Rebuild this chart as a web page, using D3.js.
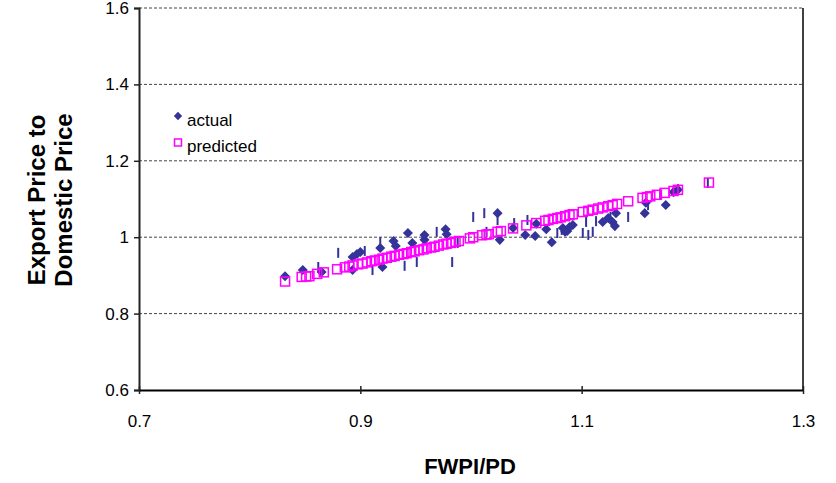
<!DOCTYPE html>
<html>
<head>
<meta charset="utf-8">
<script src="https://cdn.jsdelivr.net/npm/d3@7"></script>
<style>
  body { margin: 0; background: #fff; }
  svg text { font-family: "Liberation Sans", Arial, sans-serif; fill: #000; }
</style>
</head>
<body>
<div id="chart"></div>
<script>
// axis ticks
let xTicks = [0.7, 0.9, 1.1, 1.3];
let yTicks = [0.6, 0.8, 1.0, 1.2, 1.4, 1.6];

// "actual" series (diamonds)
let actualX = [0.832, 0.848, 0.865, 0.893, 0.893, 0.897, 0.900, 0.918, 0.920, 0.930,
               0.932, 0.943, 0.947, 0.958, 0.958, 0.977, 0.978, 1.024, 1.026, 1.038,
               1.049, 1.058, 1.059, 1.068, 1.073, 1.083, 1.087, 1.089, 1.092, 1.085,
               1.119, 1.124, 1.128, 1.130, 1.131, 1.157, 1.158, 1.176, 1.183, 1.187];
let actualY = [0.898, 0.914, 0.909, 0.914, 0.948, 0.956, 0.961, 0.972, 0.922, 0.990,
               0.977, 1.011, 0.985, 1.006, 0.993, 1.021, 1.008, 1.063, 0.993, 1.024,
               1.006, 1.003, 1.035, 1.021, 0.987, 1.024, 1.016, 1.027, 1.032, 1.014,
               1.040, 1.050, 1.040, 1.029, 1.063, 1.063, 1.090, 1.084, 1.118, 1.124];

// thin vertical marks of the actual series
let barX = [0.880, 0.862, 0.904, 0.918, 0.911, 0.940, 0.951, 0.969, 0.983, 0.988,
            1.002, 1.012, 1.014, 1.024, 1.039, 1.051, 1.078, 1.082, 1.101, 1.106,
            1.110, 1.104, 1.113, 1.126, 1.142, 1.160, 1.171, 1.183, 1.187, 1.214];
let barY = [0.959, 0.922, 0.964, 0.987, 0.914, 0.925, 0.935, 1.014, 0.935, 0.985,
            1.053, 1.063, 1.014, 1.045, 1.037, 1.045, 1.011, 1.019, 1.011, 1.006,
            1.014, 1.040, 1.042, 1.053, 1.053, 1.084, 1.113, 1.121, 1.126, 1.142];

// "predicted" series (hollow squares)
let predX = [0.832, 0.847, 0.851, 0.854, 0.861, 0.867, 0.879, 0.886, 0.890, 0.893,
             0.898, 0.902, 0.906, 0.910, 0.913, 0.917, 0.920, 0.924, 0.928, 0.931,
             0.935, 0.939, 0.942, 0.946, 0.949, 0.953, 0.957, 0.960, 0.964, 0.967,
             0.971, 0.975, 0.978, 0.982, 0.986, 0.989, 0.999, 1.002, 1.010, 1.014,
             1.016, 1.024, 1.027, 1.038, 1.050, 1.059, 1.067, 1.070, 1.074, 1.078,
             1.081, 1.085, 1.089, 1.092, 1.101, 1.106, 1.110, 1.115, 1.119, 1.124,
             1.128, 1.132, 1.142, 1.155, 1.159, 1.162, 1.168, 1.175, 1.183, 1.187, 1.215];
let predY = [0.884, 0.896, 0.897, 0.898, 0.904, 0.908, 0.916, 0.921, 0.923, 0.926,
             0.929, 0.931, 0.934, 0.937, 0.939, 0.941, 0.944, 0.946, 0.949, 0.951,
             0.954, 0.956, 0.958, 0.961, 0.963, 0.966, 0.968, 0.971, 0.973, 0.975,
             0.978, 0.981, 0.983, 0.985, 0.988, 0.990, 0.997, 1.000, 1.005, 1.007,
             1.008, 1.014, 1.016, 1.023, 1.031, 1.037, 1.043, 1.045, 1.048, 1.050,
             1.052, 1.055, 1.058, 1.060, 1.066, 1.069, 1.072, 1.075, 1.078, 1.081,
             1.084, 1.087, 1.094, 1.103, 1.105, 1.107, 1.111, 1.116, 1.121, 1.124, 1.143];

let seriesNames = ["actual", "predicted"];

let width = 836, height = 483;
let margin = {top: 8, right: 33, bottom: 93, left: 139};

let svg = d3.select("#chart").append("svg")
    .attr("width", width)
    .attr("height", height);

let x = d3.scaleLinear().domain([0.7, 1.3]).range([margin.left, width - margin.right]);
let y = d3.scaleLinear().domain([0.6, 1.6]).range([height - margin.bottom, margin.top]);

// dashed gridlines
svg.append("g")
    .selectAll("line")
    .data(yTicks.slice(1))
    .enter()
    .append("line")
    .attr("x1", x(0.7))
    .attr("x2", x(1.3))
    .attr("y1", d => y(d))
    .attr("y2", d => y(d))
    .style("stroke", "#444")
    .style("stroke-dasharray", "3,2")
    .style("stroke-width", 1);

// right border of plot area
svg.append("line")
    .attr("x1", x(1.3)).attr("x2", x(1.3))
    .attr("y1", y(1.6)).attr("y2", y(0.6))
    .style("stroke", "#000")
    .style("stroke-width", 1.5);

// y axis
let yAxis = svg.append("g")
    .attr("transform", "translate(" + x(0.7) + ",0)")
    .call(d3.axisLeft(y).tickValues(yTicks).tickSize(5).tickPadding(5)
        .tickFormat(d => d3.format("")(+d.toFixed(1))));
yAxis.select(".domain").style("stroke", "#222").style("stroke-width", 2);
yAxis.selectAll(".tick line").style("stroke", "#222").style("stroke-width", 1.5);
yAxis.selectAll("text").style("font-size", "17px");

// x axis (ticks cross the axis line)
let xAxis = svg.append("g")
    .attr("transform", "translate(0," + y(0.6) + ")")
    .call(d3.axisBottom(x).tickValues(xTicks).tickSizeInner(4).tickSizeOuter(0).tickPadding(21)
        .tickFormat(d3.format(".1f")));
xAxis.select(".domain").style("stroke", "#000").style("stroke-width", 2);
xAxis.selectAll(".tick line").attr("y1", -4).style("stroke", "#222").style("stroke-width", 1.5);
xAxis.selectAll("text").style("font-size", "17px");

// axis titles
svg.append("text")
    .attr("x", 470)
    .attr("y", 474)
    .attr("text-anchor", "middle")
    .style("font-size", "22px")
    .style("font-weight", "bold")
    .text("FWPI/PD");

let yTitle = svg.append("text")
    .attr("transform", "translate(45,200) rotate(-90)")
    .attr("text-anchor", "middle")
    .style("font-size", "24px")
    .style("font-weight", "bold");
yTitle.append("tspan").attr("x", 0).attr("dy", 0).text("Export Price to");
yTitle.append("tspan").attr("x", 0).attr("dy", 27).text("Domestic Price");

let navy = "#333399", magenta = "#ff00ff";
let diamond = d3.symbol().type(d3.symbolDiamond2).size(64);

// actual diamonds
svg.append("g")
    .selectAll("path")
    .data(actualX)
    .enter()
    .append("path")
    .attr("d", diamond)
    .attr("transform", (d, i) => "translate(" + x(d) + "," + y(actualY[i]) + ")")
    .style("fill", navy);

// vertical marks
svg.append("g")
    .selectAll("line")
    .data(barX)
    .enter()
    .append("line")
    .attr("x1", d => x(d))
    .attr("x2", d => x(d))
    .attr("y1", (d, i) => y(barY[i]) - 5)
    .attr("y2", (d, i) => y(barY[i]) + 5)
    .style("stroke", navy)
    .style("stroke-width", 2);

// predicted squares
svg.append("g")
    .selectAll("rect")
    .data(predX)
    .enter()
    .append("rect")
    .attr("x", d => x(d) - 4.5)
    .attr("y", (d, i) => y(predY[i]) - 4.5)
    .attr("width", 9)
    .attr("height", 9)
    .style("fill", "none")
    .style("stroke", magenta)
    .style("stroke-width", 1.5);

// legend
let legend = svg.append("g").attr("transform", "translate(178,116)");
legend.append("path")
    .attr("d", d3.symbol().type(d3.symbolDiamond2).size(44))
    .style("fill", navy);
legend.append("rect")
    .attr("x", -3.5).attr("y", 23)
    .attr("width", 7).attr("height", 7)
    .style("fill", "none")
    .style("stroke", magenta)
    .style("stroke-width", 1.5);
legend.selectAll("text")
    .data(seriesNames)
    .enter()
    .append("text")
    .attr("x", 9)
    .attr("y", (d, i) => 10 + i * 26)
    .style("font-size", "17px")
    .text(d => d);
</script>
</body>
</html>
